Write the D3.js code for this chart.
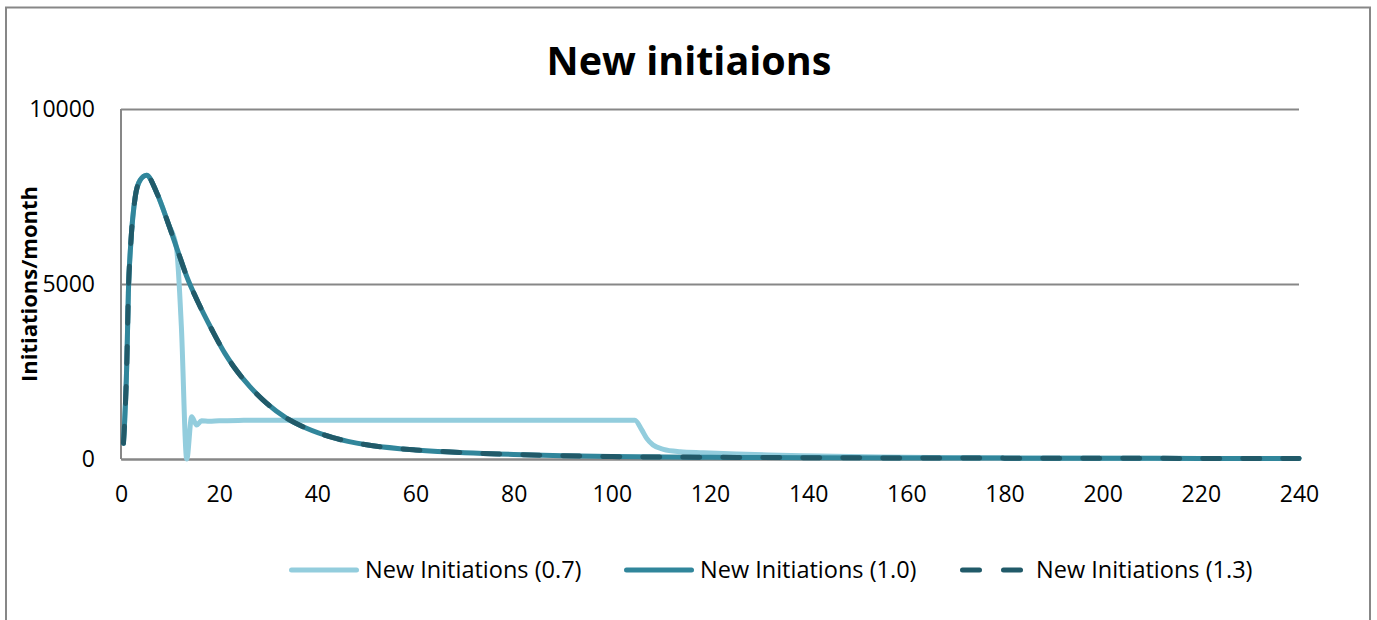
<!DOCTYPE html>
<html>
<head>
<meta charset="utf-8">
<script src="https://cdn.jsdelivr.net/npm/d3@7"></script>
<style>
  html, body { margin: 0; padding: 0; background: #fff; }
  svg { display: block; }
  text { font-family: "Open Sans", "DejaVu Sans", sans-serif; fill: #000; }
</style>
</head>
<body>
<svg id="chart" width="1377" height="620"></svg>
<script>
// Monthly new initiations for three scenarios
const monthsBase = [0.5, 1.2, 1.5, 2, 2.9, 3.9, 5.2, 7.3, 9.6, 11.7, 13.4, 15.7, 18.5, 21.2, 22.9, 26.3, 29.7, 33.7, 37.8, 43.2, 50, 56.8, 60, 70, 80, 90, 100, 120, 140, 160, 180, 200, 220, 240];
const initiations10 = [450, 2830, 4740, 6170, 7490, 7970, 8110, 7600, 6740, 5890, 5210, 4480, 3700, 3010, 2650, 2060, 1590, 1170, 877, 610, 405, 295, 260, 180, 130, 95, 70, 50, 38, 30, 25, 20, 17, 15];
const initiations13 = [450, 2830, 4740, 6170, 7490, 7970, 8110, 7600, 6740, 5890, 5210, 4480, 3700, 3010, 2650, 2060, 1590, 1170, 877, 610, 405, 295, 260, 180, 130, 95, 70, 50, 38, 30, 25, 20, 17, 15];

const months07 = [0.5, 1.2, 1.5, 2, 2.9, 3.9, 5.2, 7.3, 9.6, 11.3, 12.3, 13.4, 14.4, 15.4, 16.4, 18, 20, 25, 30, 40, 60, 80, 100, 104.7, 106.1, 107.1, 108.4, 110.5, 113.9, 118.6, 125.4, 132, 142.4, 155, 170, 200, 240];
const initiations07 = [450, 2830, 4740, 6170, 7490, 7970, 8110, 7600, 6740, 6030, 3780, 0, 1210, 970, 1090, 1080, 1095, 1105, 1110, 1110, 1110, 1110, 1110, 1110, 830, 590, 400, 277, 210, 180, 143, 114, 86, 55, 35, 22, 15];

const xTicks = [0, 20, 40, 60, 80, 100, 120, 140, 160, 180, 200, 220, 240];
const yTicks = [0, 5000, 10000];

const seriesNames = ["New Initiations (0.7)", "New Initiations (1.0)", "New Initiations (1.3)"];
const seriesColors = ["#93CDDD", "#31869B", "#215A69"];

const titleText = "New initiaions";
const yTitleText = "Initiations/month";

const svg = d3.select("#chart");
const plot = { left: 121, right: 1299, top: 109, bottom: 459 };

// outer chart frame
svg.append("rect")
  .attr("x", 6).attr("y", 7.5)
  .attr("width", 1364).attr("height", 640)
  .attr("fill", "#fff")
  .attr("stroke", "#878787").attr("stroke-width", 2);

const x = d3.scaleLinear().domain([0, 240]).range([plot.left, plot.right]);
const y = d3.scaleLinear().domain([0, 10000]).range([plot.bottom, plot.top]);

// horizontal gridlines + y tick labels
const yAxis = svg.append("g")
  .attr("transform", `translate(${plot.left},0)`)
  .call(d3.axisLeft(y).tickValues(yTicks).tickFormat(d3.format("d"))
    .tickSize(-(plot.right - plot.left)).tickPadding(26));
yAxis.select(".domain").remove();
yAxis.selectAll(".tick line")
  .attr("stroke", "#878787").attr("stroke-width", 2)
  .attr("x1", 0);
yAxis.selectAll(".tick text")
  .attr("font-family", "Open Sans").attr("font-size", 23).attr("fill", "#000")
  .attr("dy", "0.34em");

// y axis line
svg.append("line")
  .attr("x1", plot.left).attr("x2", plot.left)
  .attr("y1", plot.top).attr("y2", plot.bottom)
  .attr("stroke", "#878787").attr("stroke-width", 2);

// x axis
const xAxis = svg.append("g")
  .attr("transform", `translate(0,${plot.bottom})`)
  .call(d3.axisBottom(x).tickValues(xTicks).tickSize(0));
xAxis.select(".domain").attr("stroke", "#878787").attr("stroke-width", 2);
xAxis.selectAll(".tick text")
  .attr("font-family", "Open Sans").attr("font-size", 23).attr("fill", "#000")
  .attr("y", 43).attr("dy", null);

// series lines
const line = d3.line()
  .x(d => x(d[0]))
  .y(d => y(d[1]))
  .curve(d3.curveMonotoneX);

const series = [
  { months: months07, values: initiations07, color: seriesColors[0], dash: null },
  { months: monthsBase, values: initiations10, color: seriesColors[1], dash: null },
  { months: monthsBase, values: initiations13, color: seriesColors[2], dash: "17,23" }
];

series.forEach(s => {
  const pts = s.months.map((m, i) => [m, s.values[i]]);
  const p = svg.append("path")
    .datum(pts)
    .attr("d", line)
    .attr("fill", "none")
    .attr("stroke", s.color)
    .attr("stroke-width", 5)
    .attr("stroke-linejoin", "round")
    .attr("stroke-linecap", "round");
  if (s.dash) p.attr("stroke-dasharray", s.dash);
});

// title
svg.append("text")
  .attr("x", 689).attr("y", 75)
  .attr("text-anchor", "middle")
  .attr("font-size", 39.5).attr("font-weight", "bold")
  .text(titleText);

// y axis title
svg.append("text")
  .attr("transform", "translate(37,284) rotate(-90)")
  .attr("text-anchor", "middle")
  .attr("font-size", 22).attr("font-weight", "bold")
  .text(yTitleText);

// legend
const legendX = [289, 624, 960];
const legendY = 570;
const legend = svg.append("g");
seriesNames.forEach((name, i) => {
  const g = legend.append("g");
  const s = series[i];
  const ln = g.append("line")
    .attr("x1", legendX[i] + 2.5).attr("x2", legendX[i] + 67.5)
    .attr("y1", legendY).attr("y2", legendY)
    .attr("stroke", s.color).attr("stroke-width", 5)
    .attr("stroke-linecap", "round");
  if (s.dash) ln.attr("stroke-dasharray", "17,24");
  g.append("text")
    .attr("x", legendX[i] + 76).attr("y", legendY)
    .attr("dy", "0.35em")
    .attr("font-size", 23.5)
    .text(name);
});
</script>
</body>
</html>
